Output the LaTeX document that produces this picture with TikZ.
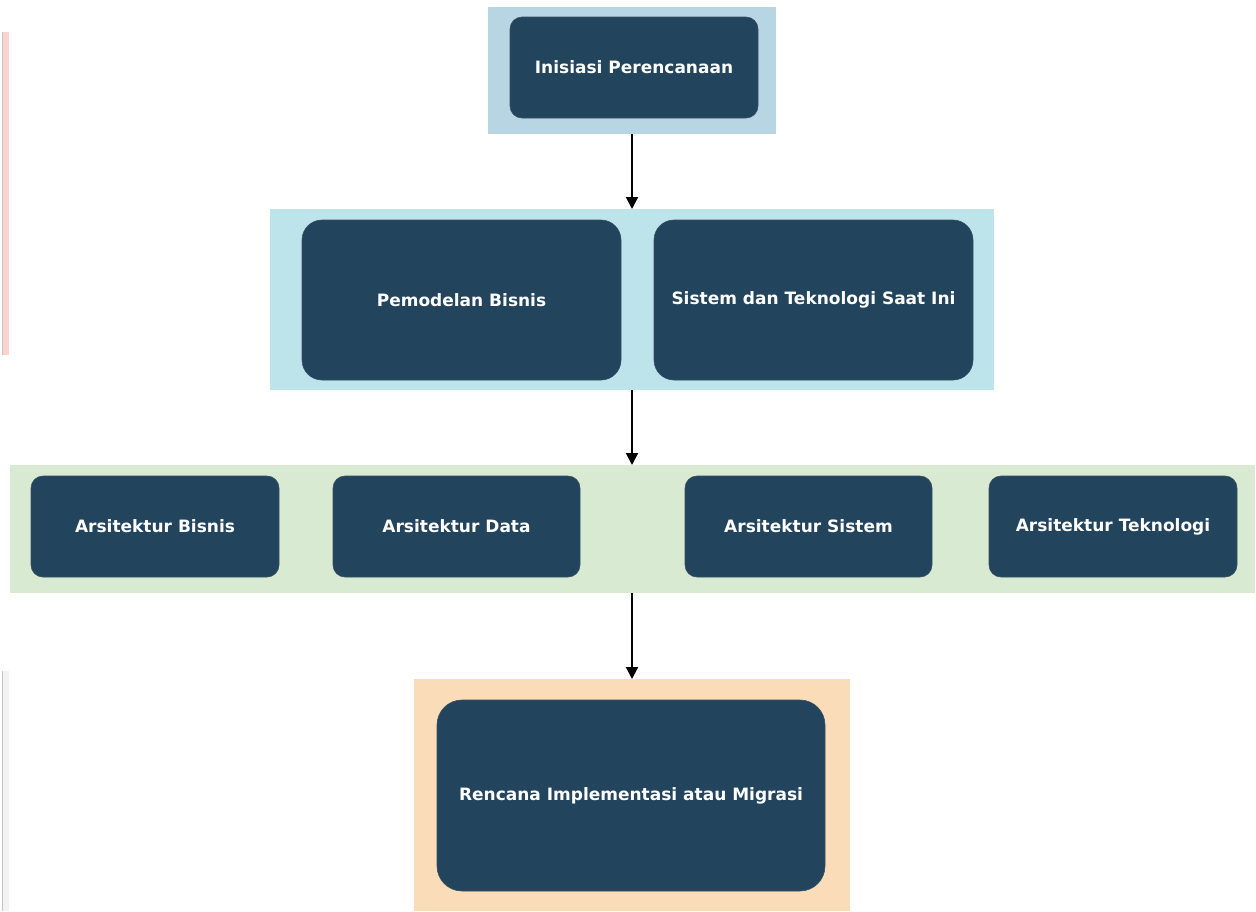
\documentclass[tikz,border=0pt]{standalone}
\usepackage{fontspec}
\setmainfont{DejaVu Sans}
\usetikzlibrary{arrows.meta}
\definecolor{boxc}{HTML}{23445D}
\definecolor{fa}{HTML}{B8D5E3}
\definecolor{fb}{HTML}{BCE4EA}
\definecolor{fc}{HTML}{D9EAD3}
\definecolor{fd}{HTML}{FADCB8}
\definecolor{pinkl}{HTML}{FFD2D2}
\definecolor{greyl}{HTML}{F2F2F2}
\definecolor{edgel}{HTML}{C4C4C4}
\tikzset{
  frame/.style={inner sep=0pt, outer sep=0pt, draw=none},
  box/.style={fill=boxc, draw=boxc!80!gray, line width=0.6pt, text=white, font=\bfseries\fontsize{17}{20}\selectfont, inner sep=0pt, outer sep=0pt, align=center},
  conn/.style={-{Triangle[length=12pt,width=12pt]}, line width=2pt, black}
}
\begin{document}
\begin{tikzpicture}[x=1pt,y=-1pt]
\useasboundingbox (0,0) rectangle (1256,911);
% side strips
\fill[pinkl] (2,32) rectangle (9,355);
\draw[edgel, line width=1pt] (2,32) -- (2,355);
\fill[greyl] (2,671) rectangle (9,911);
\draw[edgel, line width=1pt] (2,671) -- (2,911);
% frames
\node[frame, fill=fa, minimum width=288pt, minimum height=127pt] (f1) at (632,70.5) {};
\node[frame, fill=fb, minimum width=724pt, minimum height=181pt] (f2) at (632,299.5) {};
\node[frame, fill=fc, minimum width=1245pt, minimum height=128pt] (f3) at (632.5,529) {};
\node[frame, fill=fd, minimum width=436pt, minimum height=232pt] (f4) at (632,795) {};
% boxes
\node[box, rounded corners=12pt, minimum width=248pt, minimum height=101pt] (b1) at (634,67.5) {Inisiasi Perencanaan};
\node[box, rounded corners=20pt, minimum width=319pt, minimum height=160pt] (b2) at (461.5,300) {Pemodelan Bisnis};
\node[box, rounded corners=20pt, minimum width=319pt, minimum height=160pt] (b3) at (813.5,300) {Sistem dan Teknologi Saat Ini};
\node[box, rounded corners=12pt, minimum width=248pt, minimum height=101pt] (b4) at (155,526.5) {Arsitektur Bisnis};
\node[box, rounded corners=12pt, minimum width=247pt, minimum height=101pt] (b5) at (456.5,526.5) {Arsitektur Data};
\node[box, rounded corners=12pt, minimum width=247pt, minimum height=101pt] (b6) at (808.5,526.5) {Arsitektur Sistem};
\node[box, rounded corners=12pt, minimum width=248pt, minimum height=101pt] (b7) at (1113,526.5) {Arsitektur Teknologi};
\node[box, rounded corners=25pt, minimum width=388pt, minimum height=191pt] (b8) at (631,795.5) {Rencana Implementasi atau Migrasi};
% connectors
\draw[conn] (f1.south) -- (f2.north);
\draw[conn] (f2.south) -- (f3.north -| f2.south);
\draw[conn] (f3.south -| f4.north) -- (f4.north);
\end{tikzpicture}
\end{document}
